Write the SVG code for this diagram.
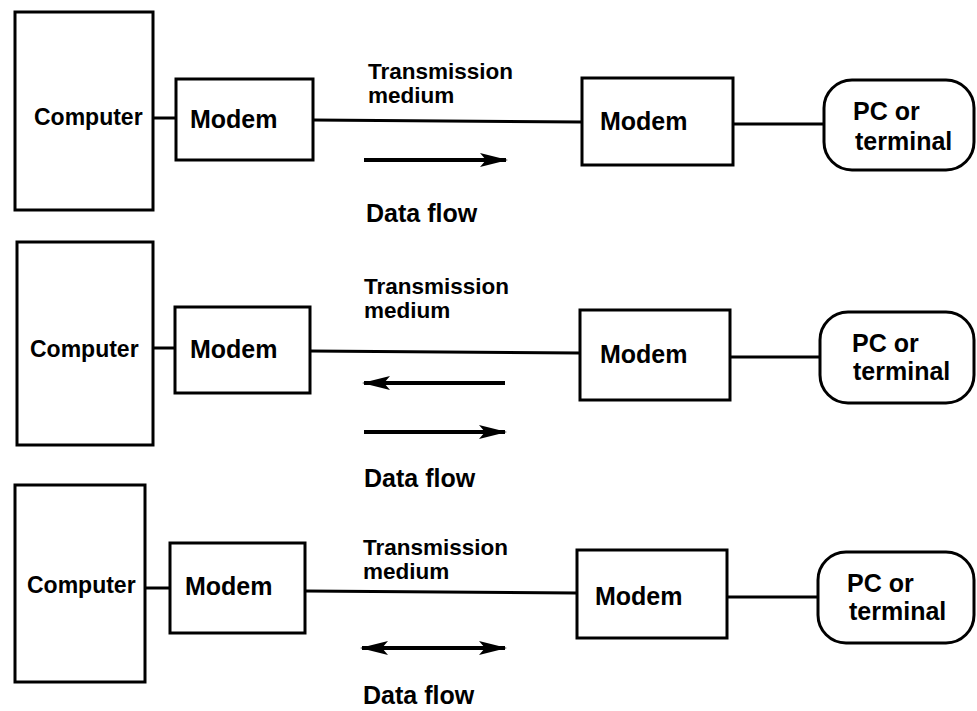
<svg xmlns="http://www.w3.org/2000/svg" width="977" height="711" viewBox="0 0 977 711">
<style>
.box{fill:#fff;stroke:#000;stroke-width:3}
.ln{stroke:#000;stroke-width:3;fill:none}
.fl{stroke:#000;stroke-width:4;fill:none}
text{font-family:"Liberation Sans",Arial,sans-serif;font-weight:bold;fill:#000}
.t{font-size:23px}
.mo{font-size:25px}
.pc{font-size:25px}
.m{font-size:22.5px}
.d{font-size:25px}
</style>
<defs>
<marker id="ah" viewBox="0 0 28 14" refX="26" refY="7" markerWidth="28" markerHeight="14" markerUnits="userSpaceOnUse" orient="auto-start-reverse">
<path d="M0,0 L28,7 L0,14 L6,7 Z" fill="#000"/>
</marker>
</defs>
<rect width="977" height="711" fill="#fff"/>
<g id="connectors">
<line class="ln" x1="153" y1="118" x2="176" y2="118"/>
<line class="ln" x1="313" y1="120" x2="582" y2="122"/>
<line class="ln" x1="733" y1="124" x2="824" y2="124"/>
<line class="fl" x1="364" y1="160" x2="506" y2="160" marker-end="url(#ah)"/>
<line class="ln" x1="153" y1="348" x2="175" y2="348"/>
<line class="ln" x1="310" y1="351" x2="580" y2="353"/>
<line class="ln" x1="730" y1="357" x2="820" y2="357"/>
<line class="fl" x1="364" y1="383" x2="505" y2="383" marker-start="url(#ah)"/>
<line class="fl" x1="364" y1="432" x2="505" y2="432" marker-end="url(#ah)"/>
<line class="ln" x1="145" y1="588" x2="170" y2="588"/>
<line class="ln" x1="305" y1="591" x2="577" y2="593"/>
<line class="ln" x1="727" y1="597" x2="818" y2="597"/>
<line class="fl" x1="362" y1="648" x2="505" y2="648" marker-start="url(#ah)" marker-end="url(#ah)"/>
</g>
<g id="p1-computer"><rect class="box" x="15" y="12" width="138" height="198"/><text class="t" x="34" y="125">Computer</text></g>
<g id="p1-modem1"><rect class="box" x="176" y="79" width="137" height="81"/><text class="mo" x="190" y="128">Modem</text></g>
<g id="p1-medium"><text class="m" x="368" y="79">Transmission</text><text class="m" x="368" y="103">medium</text></g>
<g id="p1-dataflow"><text class="d" x="366" y="222">Data flow</text></g>
<g id="p1-modem2"><rect class="box" x="582" y="78" width="151" height="87"/><text class="mo" x="600" y="130">Modem</text></g>
<g id="p1-pc"><rect class="box" x="824" y="80" width="150" height="90" rx="28"/><text class="pc" x="853" y="120">PC or</text><text class="pc" x="855" y="150">terminal</text></g>

<g id="p2-computer"><rect class="box" x="17" y="242" width="136" height="203"/><text class="t" x="30" y="357">Computer</text></g>
<g id="p2-modem1"><rect class="box" x="175" y="307" width="135" height="86"/><text class="mo" x="190" y="358">Modem</text></g>
<g id="p2-medium"><text class="m" x="364" y="294">Transmission</text><text class="m" x="364" y="318">medium</text></g>
<g id="p2-dataflow"><text class="d" x="364" y="487">Data flow</text></g>
<g id="p2-modem2"><rect class="box" x="580" y="310" width="150" height="90"/><text class="mo" x="600" y="363">Modem</text></g>
<g id="p2-pc"><rect class="box" x="820" y="312" width="154" height="91" rx="28"/><text class="pc" x="852" y="352">PC or</text><text class="pc" x="853" y="380">terminal</text></g>

<g id="p3-computer"><rect class="box" x="15" y="485" width="130" height="197"/><text class="t" x="27" y="593">Computer</text></g>
<g id="p3-modem1"><rect class="box" x="170" y="543" width="135" height="90"/><text class="mo" x="185" y="595">Modem</text></g>
<g id="p3-medium"><text class="m" x="363" y="555">Transmission</text><text class="m" x="363" y="579">medium</text></g>
<g id="p3-dataflow"><text class="d" x="363" y="704">Data flow</text></g>
<g id="p3-modem2"><rect class="box" x="577" y="550" width="150" height="88"/><text class="mo" x="595" y="605">Modem</text></g>
<g id="p3-pc"><rect class="box" x="818" y="552" width="156" height="91" rx="28"/><text class="pc" x="847" y="592">PC or</text><text class="pc" x="849" y="620">terminal</text></g>
</svg>
